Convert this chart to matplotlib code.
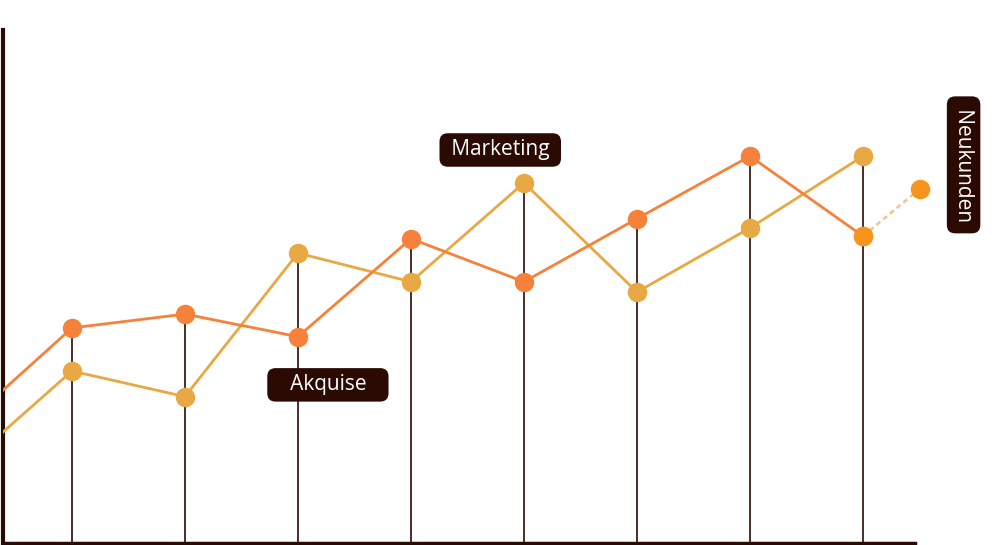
import numpy as np
import matplotlib.pyplot as plt

# x positions (index), first point lies left of the visible area
idx = [-1, 0, 1, 2, 3, 4, 5, 6, 7]
akquise = [22.0, 41.9, 44.6, 40.2, 59.3, 50.9, 63.2, 75.4, 59.8]
marketing = [14.0, 33.5, 28.5, 56.5, 50.9, 70.2, 48.9, 61.4, 75.4]
prognose_x = [7, 7.5]
prognose_y = [59.8, 69.0]

dark = '#2B0A03'
c_akq = '#F5813A'
c_mkt = '#E8A843'
c_hi = '#F7941D'

plt.rcParams['font.family'] = ['Open Sans', 'DejaVu Sans']

fig = plt.figure(figsize=(10, 5.45), dpi=100)
ax = fig.add_axes([0.003, 0.004, 0.912, 0.941])

ax.set_xlim(-0.61, 7.46)
ax.set_ylim(0, 100)

# stems up to the higher of both series
for i in range(1, len(idx)):
    top = max(akquise[i], marketing[i])
    ax.vlines(idx[i], 0, top, color=dark, lw=1.2, zorder=1)

ax.plot(idx, marketing, color=c_mkt, lw=2, marker='o', ms=13, zorder=3)
ax.plot(idx, akquise, color=c_akq, lw=2, marker='o', ms=13, zorder=3)
ax.plot(prognose_x, prognose_y, color='#F9C08A', lw=1.8, ls=(0, (2, 1.5)),
        clip_on=False, zorder=2)
ax.plot(prognose_x, prognose_y, 'o', color=c_hi, ms=13, clip_on=False, zorder=4)

box = dict(boxstyle='round,pad=0.3,rounding_size=0.4', fc=dark, ec='none')
ax.text(3.79, 76.6, ' Marketing ', color='white', fontsize=15, ha='center',
        va='center', bbox=box)
ax.text(2.265, 30.8, '   Akquise   ', color='white', fontsize=15, ha='center',
        va='center', bbox=box)
ax.text(7.89, 73.7, ' Neukunden ', color='white', fontsize=15, ha='center',
        va='center', rotation=270, bbox=box, clip_on=False)

ax.set_xticks([])
ax.set_yticks([])
for s in ['top', 'right']:
    ax.spines[s].set_visible(False)
ax.spines['left'].set_linewidth(3)
ax.spines['bottom'].set_linewidth(2.5)
ax.spines['left'].set_color(dark)
ax.spines['bottom'].set_color(dark)

fig.savefig('out.png', dpi=100)
